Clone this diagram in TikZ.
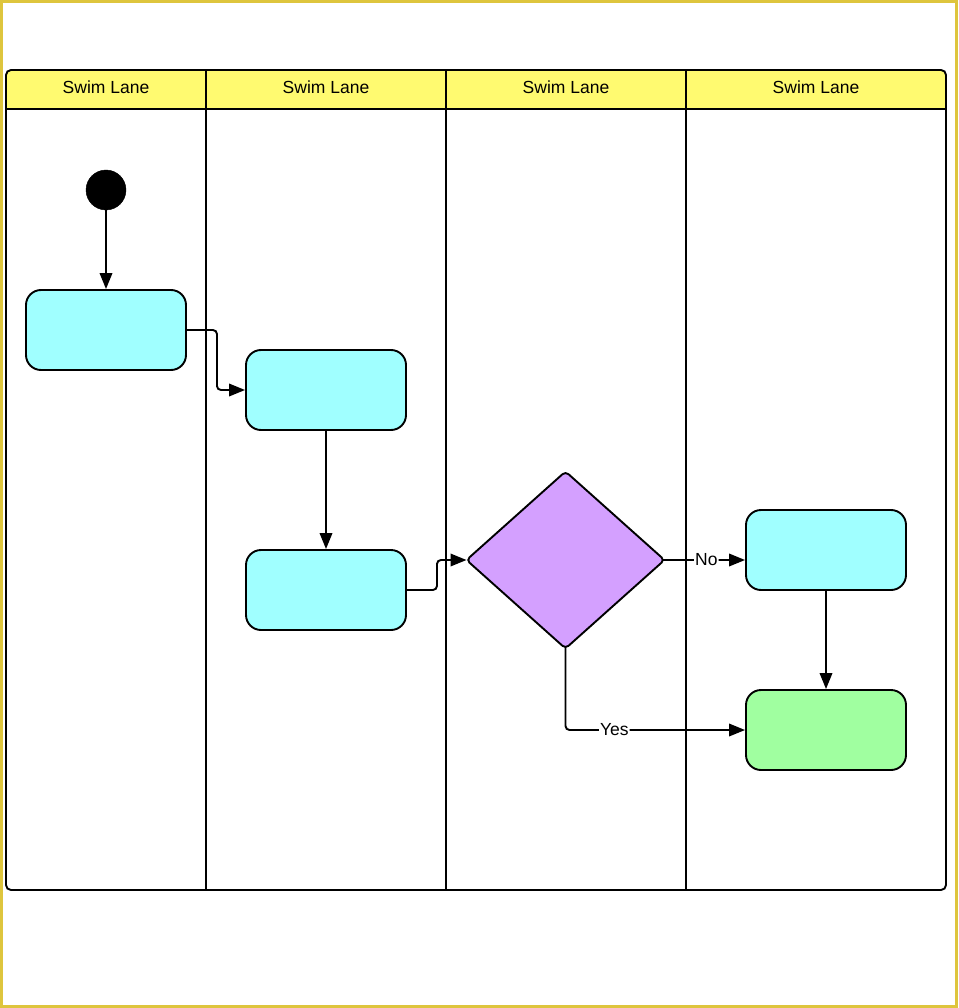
\documentclass[tikz,border=0pt]{standalone}
\usepackage{fontspec}
\setmainfont{Liberation Sans}
\usetikzlibrary{arrows.meta,shapes.geometric}
\definecolor{hdr}{RGB}{255,250,112}
\definecolor{frame}{RGB}{222,197,61}
\definecolor{cyanbox}{RGB}{160,255,255}
\definecolor{greenbox}{RGB}{160,255,160}
\definecolor{purplebox}{RGB}{212,160,255}
\tikzset{
  lw/.style={line width=1.9pt},
  actbox/.style={lw, draw=black, rectangle, rounded corners=15pt, minimum width=160pt, minimum height=80pt, inner sep=0pt},
  conn/.style={lw, draw=black, -{Triangle[length=16pt,width=12.5pt]}, rounded corners=4pt},
  lbl/.style={fill=white, inner sep=1pt, font=\fontsize{17.5}{20}\selectfont},
  lanelbl/.style={font=\fontsize{17.5}{20}\selectfont, inner sep=0pt},
}
\begin{document}
\begin{tikzpicture}[x=1pt,y=-1pt]
\useasboundingbox (0,0) rectangle (958,1008);
\fill[white] (0,0) rectangle (958,1008);
\draw[frame, line width=3pt] (1.5,1.5) rectangle (956.5,1006.5);
% pool
\fill[white, rounded corners=5pt] (6,70) rectangle (946,890);
\begin{scope}
  \clip (0,0) rectangle (958,109);
  \fill[hdr, rounded corners=5pt] (6,70) rectangle (946,890);
\end{scope}
\draw[lw] (6,109) -- (946,109);
\foreach \xx in {206,446,686} \draw[lw] (\xx,70) -- (\xx,890);
\draw[lw, rounded corners=5pt] (6,70) rectangle (946,890);
% lane labels
\node[lanelbl] (l1) at (106,87.5) {Swim Lane};
\node[lanelbl] (l2) at (326,87.5) {Swim Lane};
\node[lanelbl] (l3) at (566,87.5) {Swim Lane};
\node[lanelbl] (l4) at (816,87.5) {Swim Lane};
% nodes
\node[circle, fill=black, draw=black, minimum size=40pt, inner sep=0pt] (start) at (106,190) {};
\node[actbox, fill=cyanbox] (b1) at (106,330) {};
\node[actbox, fill=cyanbox] (b2) at (326,390) {};
\node[actbox, fill=cyanbox] (b3) at (326,590) {};
\node[diamond, lw, draw=black, fill=purplebox, minimum width=198pt, minimum height=177pt, inner sep=0pt, outer sep=0pt, rounded corners=4pt] (dia) at (565.5,560) {};
\node[actbox, fill=cyanbox] (b4) at (826,550) {};
\node[actbox, fill=greenbox] (b5) at (826,730) {};
% connectors
\draw[conn] (start) -- (b1);
\draw[conn] (b1.east) -- ++(30,0) |- (b2.west);
\draw[conn] (b2) -- (b3);
\draw[conn] (b3.east) -- ++(30,0) |- (dia.west);
\draw[conn, shorten <=-2pt] (dia.east) -- node[lbl, pos=0.52]{No} (b4.west |- dia.east);
\draw[conn] (b4) -- (b5);
\draw[conn, shorten <=-2pt] (dia.south) |- node[lbl, pos=0.636]{Yes} (b5.west);
\end{tikzpicture}
\end{document}
